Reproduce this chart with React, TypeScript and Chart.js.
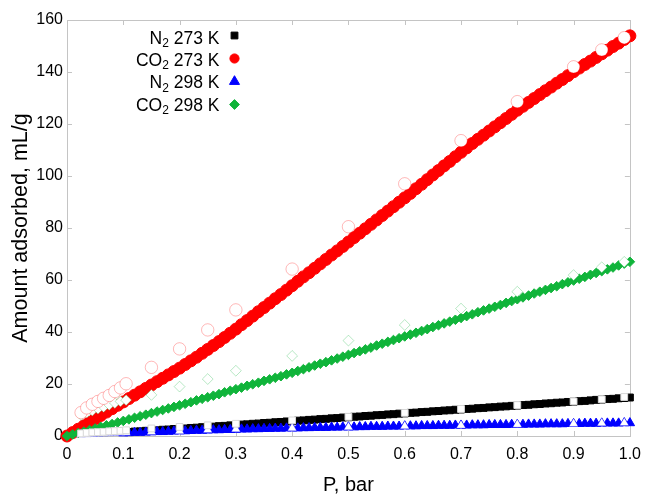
import React, { useEffect, useRef } from 'react';
import { Chart, registerables } from 'chart.js';

Chart.register(...registerables);

// ---- data ----
const pressure = [
  0, 0.01, 0.02, 0.03, 0.04, 0.05, 0.06, 0.07, 0.08, 0.09,
  0.1, 0.11, 0.12, 0.13, 0.14, 0.15, 0.16, 0.17, 0.18, 0.19,
  0.2, 0.21, 0.22, 0.23, 0.24, 0.25, 0.26, 0.27, 0.28, 0.29,
  0.3, 0.31, 0.32, 0.33, 0.34, 0.35, 0.36, 0.37, 0.38, 0.39,
  0.4, 0.41, 0.42, 0.43, 0.44, 0.45, 0.46, 0.47, 0.48, 0.49,
  0.5, 0.51, 0.52, 0.53, 0.54, 0.55, 0.56, 0.57, 0.58, 0.59,
  0.6, 0.61, 0.62, 0.63, 0.64, 0.65, 0.66, 0.67, 0.68, 0.69,
  0.7, 0.71, 0.72, 0.73, 0.74, 0.75, 0.76, 0.77, 0.78, 0.79,
  0.8, 0.81, 0.82, 0.83, 0.84, 0.85, 0.86, 0.87, 0.88, 0.89,
  0.9, 0.91, 0.92, 0.93, 0.94, 0.95, 0.96, 0.97, 0.98, 0.99,
  1.0,
];

const n2_273 = [
  0, 0.1, 0.3, 0.4, 0.6, 0.7, 0.8, 1.0, 1.1, 1.3,
  1.4, 1.5, 1.7, 1.8, 2.0, 2.1, 2.2, 2.4, 2.5, 2.7,
  2.8, 2.9, 3.1, 3.2, 3.4, 3.5, 3.6, 3.8, 3.9, 4.1,
  4.2, 4.4, 4.5, 4.7, 4.8, 5.0, 5.1, 5.3, 5.4, 5.6,
  5.7, 5.9, 6.0, 6.2, 6.3, 6.5, 6.6, 6.8, 6.9, 7.1,
  7.2, 7.4, 7.5, 7.7, 7.8, 8.0, 8.1, 8.3, 8.4, 8.6,
  8.7, 8.9, 9.0, 9.2, 9.3, 9.5, 9.6, 9.8, 9.9, 10.1,
  10.2, 10.4, 10.5, 10.7, 10.8, 11.0, 11.1, 11.3, 11.4, 11.6,
  11.7, 11.9, 12.0, 12.2, 12.3, 12.5, 12.6, 12.8, 12.9, 13.1,
  13.2, 13.4, 13.5, 13.7, 13.9, 14.0, 14.2, 14.3, 14.5, 14.6,
  14.8,
];

const co2_273 = [
  0, 1.3, 2.6, 3.9, 5.2, 6.5, 7.9, 9.2, 10.5, 11.8,
  13.1, 14.4, 15.7, 17.0, 18.3, 19.6, 20.9, 22.2, 23.5, 24.8,
  26.1, 27.5, 28.9, 30.3, 31.8, 33.3, 34.8, 36.3, 37.9, 39.5,
  41.1, 42.8, 44.4, 46.1, 47.8, 49.4, 51.1, 52.8, 54.4, 56.1,
  57.8, 59.5, 61.2, 62.8, 64.5, 66.2, 67.9, 69.6, 71.2, 72.9,
  74.6, 76.3, 78.0, 79.7, 81.4, 83.1, 84.8, 86.5, 88.2, 89.9,
  91.6, 93.3, 95.1, 96.8, 98.6, 100.4, 102.1, 103.9, 105.6, 107.4,
  109.1, 110.8, 112.5, 114.1, 115.7, 117.3, 118.9, 120.5, 122.1, 123.7,
  125.3, 126.8, 128.3, 129.8, 131.3, 132.8, 134.2, 135.7, 137.1, 138.6,
  140.1, 141.5, 142.9, 144.2, 145.6, 147.0, 148.4, 149.8, 151.1, 152.5,
  153.9,
];

const n2_298 = [
  null, null, null, null, null, 0.6, 0.7, 0.8, 0.9, 1.0,
  1.1, 1.2, 1.3, 1.3, 1.4, 1.5, 1.6, 1.6, 1.7, 1.8,
  1.9, 1.9, 2.0, 2.1, 2.1, 2.2, 2.3, 2.3, 2.4, 2.4,
  2.5, 2.6, 2.6, 2.7, 2.7, 2.8, 2.8, 2.9, 2.9, 3.0,
  3.0, 3.0, 3.1, 3.1, 3.2, 3.2, 3.2, 3.3, 3.3, 3.4,
  3.4, 3.4, 3.5, 3.5, 3.6, 3.6, 3.6, 3.7, 3.7, 3.7,
  3.8, 3.8, 3.8, 3.9, 3.9, 3.9, 4.0, 4.0, 4.0, 4.1,
  4.1, 4.1, 4.2, 4.2, 4.2, 4.3, 4.3, 4.3, 4.3, 4.4,
  4.4, 4.4, 4.5, 4.5, 4.5, 4.6, 4.6, 4.6, 4.6, 4.7,
  4.7, 4.7, 4.8, 4.8, 4.8, 4.9, 4.9, 4.9, 4.9, 5.0,
  5.0,
];

const co2_298 = [
  0, 0.6, 1.2, 1.7, 2.3, 2.9, 3.5, 4.1, 4.6, 5.2,
  5.8, 6.4, 7.0, 7.6, 8.2, 8.8, 9.4, 10.0, 10.6, 11.2,
  11.8, 12.4, 13.0, 13.7, 14.3, 14.9, 15.5, 16.1, 16.8, 17.4,
  18.0, 18.6, 19.3, 19.9, 20.5, 21.2, 21.8, 22.4, 23.0, 23.7,
  24.3, 25.0, 25.7, 26.4, 27.1, 27.8, 28.4, 29.1, 29.8, 30.5,
  31.2, 31.9, 32.6, 33.3, 34.0, 34.8, 35.5, 36.2, 36.9, 37.6,
  38.3, 39.0, 39.7, 40.4, 41.1, 41.9, 42.6, 43.3, 44.0, 44.7,
  45.4, 46.1, 46.8, 47.6, 48.3, 49.0, 49.7, 50.4, 51.2, 51.9,
  52.6, 53.3, 54.0, 54.8, 55.5, 56.2, 56.9, 57.6, 58.4, 59.1,
  59.8, 60.5, 61.2, 62.0, 62.7, 63.4, 64.1, 64.8, 65.6, 66.3,
  67.0,
];

// open (desorption) points
const pressureDes = [
  0.025, 0.035, 0.045, 0.055, 0.065, 0.075, 0.085, 0.095, 0.105,
  0.15, 0.2, 0.25, 0.3, 0.4, 0.5, 0.6, 0.7, 0.8, 0.9, 0.95, 0.99,
];
const n2_273Des = [1.0, 1.2, 1.4, 1.5, 1.6, 1.8, 1.9, 2.0, 2.2, 2.9, 3.5, 4.1, 4.7, 6.0, 7.4, 8.9, 10.4, 11.9, 13.3, 14.1, 15.0];
const co2_273Des = [9.0, 10.8, 12.2, 13.3, 14.5, 15.6, 17.1, 18.5, 20.1, 26.4, 33.5, 40.8, 48.5, 64.2, 80.5, 97.0, 113.6, 128.6, 142.0, 148.5, 153.2];
const n2_298Des = [0.6, 0.7, 0.8, 0.9, 1.0, 1.1, 1.2, 1.3, 1.3, 1.6, 1.9, 2.3, 2.6, 3.0, 3.4, 3.8, 4.1, 4.4, 4.7, 4.9, 5.0];
const co2_298Des = [8.1, 9.0, 9.8, 10.5, 11.2, 12.0, 12.7, 13.3, 13.8, 15.8, 19.0, 21.9, 25.1, 30.8, 36.7, 42.7, 49.0, 55.5, 61.9, 64.9, 67.0];

const xTickValues = [0, 0.1, 0.2, 0.3, 0.4, 0.5, 0.6, 0.7, 0.8, 0.9, 1.0];
const xTickLabels = ['0', '0.1', '0.2', '0.3', '0.4', '0.5', '0.6', '0.7', '0.8', '0.9', '1.0'];
const yTickValues = [0, 20, 40, 60, 80, 100, 120, 140, 160];
const yTickLabels = ['0', '20', '40', '60', '80', '100', '120', '140', '160'];

const legendGas = ['N', 'CO', 'N', 'CO'];
const legendSub = ['2', '2', '2', '2'];
const legendTemp = [' 273 K', ' 273 K', ' 298 K', ' 298 K'];

const xTitle = 'P, bar';
const yTitle = 'Amount adsorbed, mL/g';

// ---- styles ----
const FONT = "'Liberation Sans', Arial, sans-serif";
const BLACK = '#000000';
const RED = '#ff0000';
const BLUE = '#0000ff';
const GREEN = '#10b43a';
const legendColors = [BLACK, RED, BLUE, GREEN];
const legendShapes = ['rect', 'circle', 'triangle', 'rectRot'];
const legendRadius = [4.8, 4.6, 5.8, 4.9];

const toPoints = (xs: number[], ys: (number | null)[]) =>
  xs.map((x, i) => ({ x, y: ys[i] })).filter((p) => p.y !== null) as { x: number; y: number }[];

function drawMarker(ctx: CanvasRenderingContext2D, shape: string, r: number, x: number, y: number) {
  ctx.beginPath();
  if (shape === 'rect') {
    const s = r * Math.SQRT1_2;
    ctx.rect(x - s, y - s, 2 * s, 2 * s);
  } else if (shape === 'circle') {
    ctx.arc(x, y, r, 0, Math.PI * 2);
  } else if (shape === 'triangle') {
    ctx.moveTo(x, y - r);
    ctx.lineTo(x + r * 0.866, y + r * 0.5);
    ctx.lineTo(x - r * 0.866, y + r * 0.5);
    ctx.closePath();
  } else {
    ctx.moveTo(x, y - r);
    ctx.lineTo(x + r, y);
    ctx.lineTo(x, y + r);
    ctx.lineTo(x - r, y);
    ctx.closePath();
  }
  ctx.fill();
  ctx.stroke();
}

const framePlugin = {
  id: 'frame',
  beforeDatasetsDraw(chart: any) {
    const { ctx, chartArea } = chart;
    const xs = chart.scales.x;
    const ys = chart.scales.y;
    const { left, right, top, bottom } = chartArea;
    ctx.save();
    ctx.strokeStyle = '#c4c4c4';
    ctx.lineWidth = 1;
    ctx.beginPath();
    const tl = 5;
    xTickValues.forEach((v) => {
      const px = Math.round(xs.getPixelForValue(v)) + 0.5;
      ctx.moveTo(px, bottom);
      ctx.lineTo(px, bottom - tl);
      ctx.moveTo(px, top);
      ctx.lineTo(px, top + tl);
    });
    yTickValues.forEach((v) => {
      const py = Math.round(ys.getPixelForValue(v)) + 0.5;
      ctx.moveTo(left, py);
      ctx.lineTo(left + tl, py);
      ctx.moveTo(right, py);
      ctx.lineTo(right - tl, py);
    });
    ctx.stroke();
    ctx.strokeRect(Math.round(left) + 0.5, Math.round(top) + 0.5, Math.round(right - left), Math.round(bottom - top));
    ctx.restore();
  },
  afterDraw(chart: any) {
    const { ctx } = chart;
    ctx.save();
    const textRight = 219.5;
    const markerX = 234.5;
    const rowBase = [43.6, 65.6, 88.0, 110.6];
    const markerY = [35.5, 58.5, 81.5, 104.5];
    for (let i = 0; i < legendGas.length; i++) {
      const mainFont = `17.5px ${FONT}`;
      const subFont = `12px ${FONT}`;
      ctx.font = mainFont;
      const w1 = ctx.measureText(legendGas[i]).width;
      const w3 = ctx.measureText(legendTemp[i]).width;
      ctx.font = subFont;
      const w2 = ctx.measureText(legendSub[i]).width;
      let x = textRight - (w1 + w2 + w3);
      const y = rowBase[i];
      ctx.fillStyle = '#000';
      ctx.textBaseline = 'alphabetic';
      ctx.textAlign = 'left';
      ctx.font = mainFont;
      ctx.fillText(legendGas[i], x, y);
      x += w1;
      ctx.font = subFont;
      ctx.fillText(legendSub[i], x, y + 3.5);
      x += w2;
      ctx.font = mainFont;
      ctx.fillText(legendTemp[i], x, y);
      ctx.fillStyle = legendColors[i];
      ctx.strokeStyle = legendColors[i];
      ctx.lineWidth = 1;
      drawMarker(ctx, legendShapes[i], legendRadius[i], markerX, markerY[i]);
    }
    ctx.restore();
  },
};

export default function App() {
  const canvasRef = useRef<HTMLCanvasElement | null>(null);

  useEffect(() => {
    if (!canvasRef.current) return;
    const openBase = {
      showLine: false,
      pointBackgroundColor: '#ffffff',
      pointBorderWidth: 1,
      clip: false as any,
      order: 0,
    };
    const chart = new Chart(canvasRef.current, {
      type: 'scatter',
      data: {
        datasets: [
          {
            label: 'N2 273 K open',
            data: toPoints(pressureDes, n2_273Des),
            pointStyle: 'rect',
            pointRadius: 4.8,
            pointBorderColor: '#d8d8d8',
            ...openBase,
          },
          {
            label: 'CO2 273 K open',
            data: toPoints(pressureDes, co2_273Des),
            pointStyle: 'circle',
            pointRadius: 6.2,
            pointBorderColor: 'rgba(255,0,0,0.28)',
            ...openBase,
          },
          {
            label: 'N2 298 K open',
            data: toPoints(pressureDes, n2_298Des),
            pointStyle: 'triangle',
            pointRadius: 5.2,
            pointBorderColor: 'rgba(0,0,255,0.2)',
            ...openBase,
          },
          {
            label: 'CO2 298 K open',
            data: toPoints(pressureDes, co2_298Des),
            pointStyle: 'rectRot',
            pointRadius: 5.4,
            pointBorderColor: 'rgba(16,180,58,0.3)',
            ...openBase,
          },
          {
            label: 'CO2 298 K',
            data: toPoints(pressure, co2_298),
            pointStyle: 'rectRot',
            pointRadius: 4.8,
            pointBackgroundColor: GREEN,
            pointBorderColor: GREEN,
            pointBorderWidth: 1,
            showLine: false,
            clip: false as any,
            order: 1,
          },
          {
            label: 'N2 298 K',
            data: toPoints(pressure, n2_298),
            pointStyle: 'triangle',
            pointRadius: (c: any) => (c.raw && c.raw.x < 0.095 ? 2.8 : 5.4),
            pointBackgroundColor: BLUE,
            pointBorderColor: BLUE,
            pointBorderWidth: 1,
            showLine: false,
            clip: false as any,
            order: 2,
          },
          {
            label: 'CO2 273 K',
            data: toPoints(pressure, co2_273),
            pointStyle: 'circle',
            pointRadius: 6,
            pointBackgroundColor: RED,
            pointBorderColor: RED,
            pointBorderWidth: 1,
            showLine: false,
            clip: false as any,
            order: 3,
          },
          {
            label: 'N2 273 K',
            data: toPoints(pressure, n2_273),
            pointStyle: 'rect',
            pointRadius: (c: any) => (c.raw && c.raw.x < 0.105 ? 0 : 4.9),
            pointBackgroundColor: BLACK,
            pointBorderColor: BLACK,
            pointBorderWidth: 1,
            showLine: true,
            borderColor: '#444444',
            borderWidth: 1,
            clip: false as any,
            order: 4,
          },
        ] as any,
      },
      options: {
        animation: false,
        responsive: true,
        maintainAspectRatio: false,
        events: [],
        layout: { padding: { left: 0, top: 20, right: 14, bottom: 0 } },
        plugins: {
          legend: { display: false },
          tooltip: { enabled: false },
        },
        scales: {
          x: {
            type: 'linear',
            min: 0,
            max: 1,
            afterBuildTicks: (s: any) => {
              s.ticks = xTickValues.map((v) => ({ value: v }));
            },
            afterFit: (s: any) => {
              s.height = 61;
            },
            grid: { display: false, drawTicks: false },
            border: { display: false },
            ticks: {
              autoSkip: false,
              maxRotation: 0,
              padding: 9,
              color: '#000',
              font: { family: FONT, size: 16 },
              callback: (_v: any, i: number) => xTickLabels[i],
            },
            title: {
              display: true,
              text: xTitle,
              color: '#000',
              font: { family: FONT, size: 20 },
              padding: { top: 0, bottom: 0 },
            },
          },
          y: {
            type: 'linear',
            min: 0,
            max: 160,
            afterBuildTicks: (s: any) => {
              s.ticks = yTickValues.map((v) => ({ value: v }));
            },
            afterFit: (s: any) => {
              s.width = 67;
            },
            grid: { display: false, drawTicks: false },
            border: { display: false },
            ticks: {
              autoSkip: false,
              padding: 4,
              color: '#000',
              font: { family: FONT, size: 16 },
              callback: (_v: any, i: number) => yTickLabels[i],
            },
            title: {
              display: true,
              text: yTitle,
              color: '#000',
              font: { family: FONT, size: 21.5 },
              padding: { top: 8, bottom: 0 },
            },
          },
        },
      } as any,
      plugins: [framePlugin],
    });
    return () => chart.destroy();
  }, []);

  return (
    <div style={{ position: 'fixed', left: 0, top: 0, width: 650, height: 497, background: '#fff' }}>
      <canvas ref={canvasRef} />
    </div>
  );
}
